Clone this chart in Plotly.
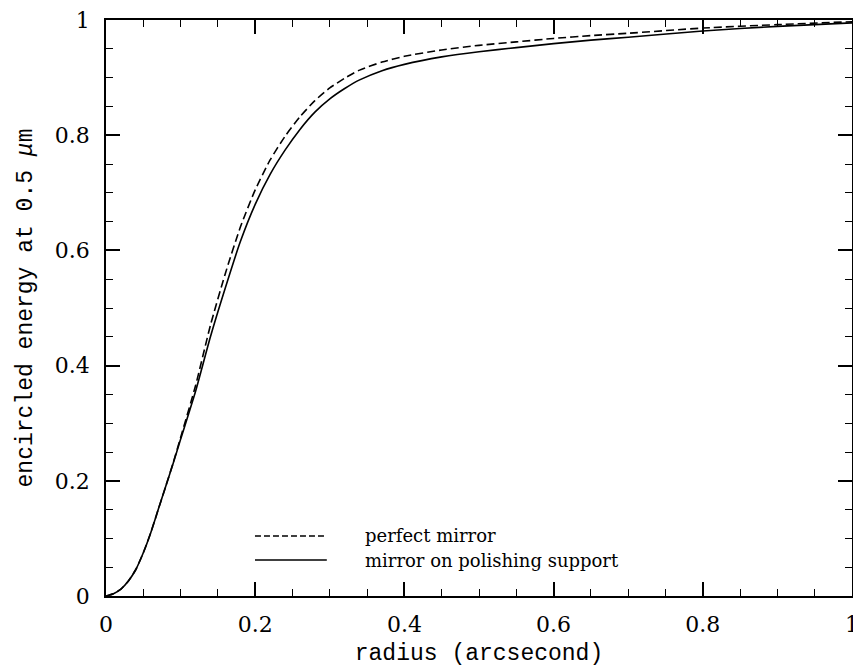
import plotly.graph_objects as go

radius = [0, 0.01, 0.02, 0.03, 0.04, 0.05, 0.06, 0.07, 0.08, 0.09, 0.10, 0.12, 0.14, 0.16, 0.18,
          0.20, 0.22, 0.24, 0.26, 0.28, 0.30, 0.32, 0.34, 0.37, 0.40, 0.45, 0.50, 0.55, 0.60,
          0.65, 0.70, 0.80, 0.90, 1.00]
perfect_mirror = [0, 0.004, 0.012, 0.026, 0.046, 0.075, 0.110, 0.150, 0.190, 0.231, 0.275, 0.365,
                  0.470, 0.560, 0.640, 0.705, 0.757, 0.798, 0.832, 0.860, 0.882, 0.899, 0.913,
                  0.927, 0.937, 0.948, 0.956, 0.962, 0.968, 0.973, 0.977, 0.986, 0.992, 0.997]
polishing_support = [0, 0.004, 0.012, 0.026, 0.046, 0.075, 0.110, 0.150, 0.190, 0.230, 0.272, 0.355,
                     0.450, 0.535, 0.615, 0.680, 0.732, 0.774, 0.810, 0.840, 0.863, 0.881, 0.896,
                     0.912, 0.923, 0.936, 0.945, 0.952, 0.959, 0.965, 0.970, 0.981, 0.989, 0.995]
tick_vals = [0, 0.2, 0.4, 0.6, 0.8, 1]
tick_text = ["0", "0.2", "0.4", "0.6", "0.8", "1"]
legend_labels = ["perfect mirror", "mirror on polishing support"]

fig = go.Figure()
fig.add_trace(go.Scatter(x=radius, y=perfect_mirror, mode="lines", name=legend_labels[0],
                         line=dict(color="black", width=1.6, dash="8px,4px", shape="spline", smoothing=0.6)))
fig.add_trace(go.Scatter(x=radius, y=polishing_support, mode="lines", name=legend_labels[1],
                         line=dict(color="black", width=1.6, shape="spline", smoothing=0.6)))

axis_common = dict(
    range=[0, 1], tickvals=tick_vals, ticktext=tick_text,
    ticks="inside", ticklen=14, tickwidth=1.5, tickcolor="black",
    minor=dict(dtick=0.05, ticks="inside", ticklen=7, tickwidth=1.3, tickcolor="black", showgrid=False),
    showline=True, linecolor="black", linewidth=1.6, mirror="ticks",
    showgrid=False, zeroline=False, ticklabeloverflow="allow",
    tickfont=dict(family="DejaVu Serif", size=22, color="black"),
)

fig.update_xaxes(**axis_common, ticklabelstandoff=8,
                 title=dict(text="radius (arcsecond)", standoff=12,
                            font=dict(family="Liberation Mono", size=23, color="black")))
fig.update_yaxes(**axis_common, ticklabelstandoff=10,
                 title=dict(text="encircled energy at 0.5 <i>μ</i>m", standoff=16,
                            font=dict(family="Liberation Mono", size=23, color="black")))

# legend drawn inside the plot
leg_y = [0.1042, 0.0625]
dashes = ["6px,3px", "solid"]
for i in range(2):
    fig.add_shape(type="line", xref="paper", yref="paper", x0=0.1997, x1=0.296, y0=leg_y[i], y1=leg_y[i],
                  line=dict(color="black", width=1.4, dash=dashes[i]))
    fig.add_annotation(xref="paper", yref="paper", x=0.3445, y=leg_y[i], text=legend_labels[i],
                       showarrow=False, xanchor="left", yanchor="middle",
                       font=dict(family="DejaVu Serif", size=18, color="black"))

fig.update_layout(
    width=853, height=659, showlegend=False,
    margin=dict(l=98, r=9, t=12, b=71, autoexpand=False),
    plot_bgcolor="white", paper_bgcolor="white",
)
fig.write_html("out.html")
